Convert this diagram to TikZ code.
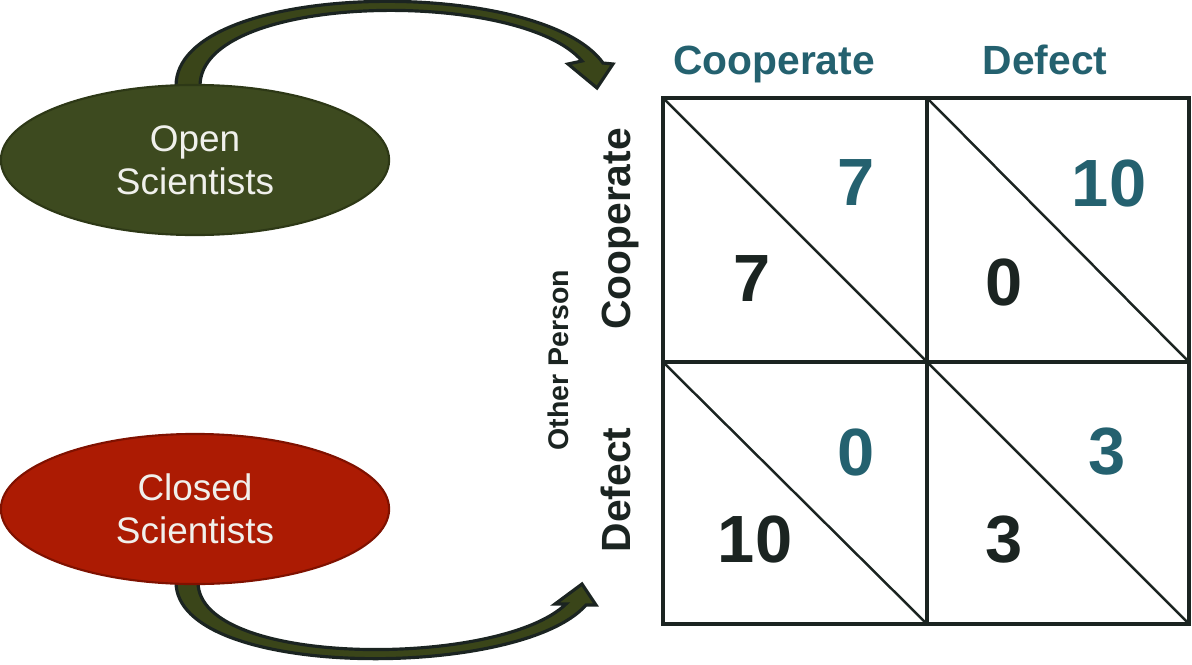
\documentclass[tikz,border=0pt]{standalone}
\usepackage{fontspec}
\setmainfont{Liberation Sans}
\usepackage{tikz}
\usetikzlibrary{shapes.geometric,positioning,calc}
\definecolor{olive}{HTML}{3D4A1F}
\definecolor{olivedark}{HTML}{2D3816}
\definecolor{redfill}{HTML}{AC1B03}
\definecolor{reddark}{HTML}{7F1100}
\definecolor{teal}{HTML}{24616F}
\definecolor{ink}{HTML}{1B2421}
\definecolor{arrowfill}{HTML}{3A4519}
\definecolor{paletext}{HTML}{F0F0EC}

\begin{document}
\begin{tikzpicture}[x=0.01cm, y=-0.01cm,
    group/.style={ellipse, draw, line width=0.6pt, minimum width=3.88cm, minimum height=1.5cm,
      inner sep=0pt, align=center, text=paletext, font=\fontsize{10.5}{12.3}\selectfont},
    blockarrow/.style={fill=arrowfill, draw=ink, line width=0.9pt, line join=miter},
    head/.style={text=teal, font=\fontsize{11.6}{13}\selectfont\bfseries, anchor=base},
    side/.style={text=ink, font=\fontsize{11.6}{13}\selectfont\bfseries, anchor=base, rotate=90},
    payoff/.style={inner sep=0pt, font=\fontsize{19}{21}\selectfont\bfseries},
    mine/.style={payoff, text=teal},
    theirs/.style={payoff, text=ink}]
      \useasboundingbox (0,0) rectangle (1192,664);

      % Draw arrows
      \draw[blockarrow] (176,86) .. controls (176,-20) and (540,-25) .. (603,63)
        -- (613,64) -- (597,88) -- (568,64) -- (582,61)
        .. controls (520,-12) and (200,-8) .. (200,86) -- cycle;
      \draw[blockarrow] (176,582) .. controls (176,680) and (520,680) .. (586,605)
        -- (596,605) -- (582,584) -- (555,604) -- (566,604)
        .. controls (500,668) and (198,668) .. (198,582) -- cycle;

      % Define nodes
      \node[group, fill=olive, draw=olivedark] (open) at (195,160) {Open\\Scientists};
      \node[group, fill=redfill, draw=reddark] (closed) at (195,509) {Closed\\Scientists};

      \coordinate (nw) at (663,98);
      \coordinate (mid) at (927,362);
      \coordinate (se) at (1189,624);

      \node[head] (hc) at (774,75) {Cooperate};
      \node[head] (hd) at (1045,75) {Defect};
      \node[side] (sc) at (630,229) {Cooperate};
      \node[side] (sd) at (630,490) {Defect};
      \node[side, font=\fontsize{8.1}{10}\selectfont\bfseries] (other) at (568,360) {Other Person};

      \node[mine] (cc1) at (856,183) {7};
      \node[theirs] (cc2) at (752,279) {7};
      \node[mine] (cd1) at (1109,183) {10};
      \node[theirs] (cd2) at (1004,282) {0};
      \node[mine] (dc1) at (856,452) {0};
      \node[theirs] (dc2) at (755,539) {10};
      \node[mine] (dd1) at (1107,452) {3};
      \node[theirs] (dd2) at (1004,540) {3};

      % Draw grid
      \draw[ink, line width=0.7pt] (nw) -- (mid) -- (se);
      \draw[ink, line width=0.7pt] (nw -| mid) -- (mid -| se);
      \draw[ink, line width=0.7pt] (nw |- mid) -- (mid |- se);
      \draw[ink, line width=0.95pt] (nw) rectangle (se);
      \draw[ink, line width=0.95pt] (nw -| mid) -- (se -| mid);
      \draw[ink, line width=0.95pt] (nw |- mid) -- (se |- mid);
\end{tikzpicture}
\end{document}
